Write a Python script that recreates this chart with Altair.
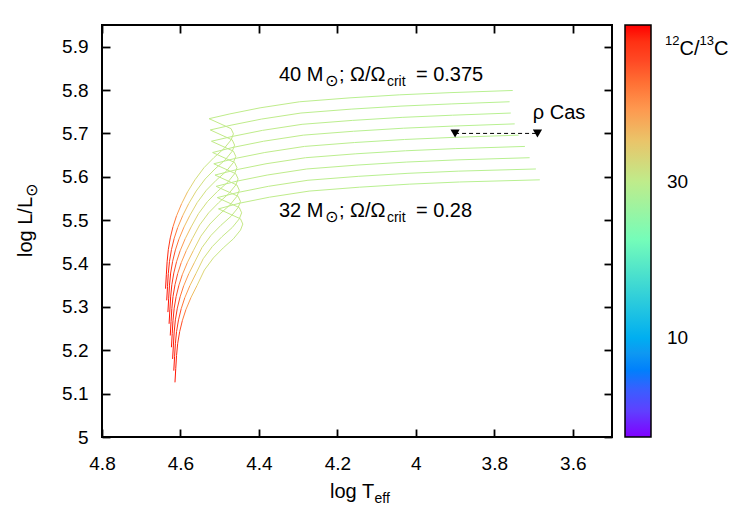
import altair as alt
import pandas as pd

# Rotating evolutionary tracks, 40 Msun (top) down to 32 Msun (bottom)
masses = [40, 39, 38, 37, 36, 35, 34, 33, 32]

track_logT = [
    [4.638, 4.636, 4.634, 4.631, 4.626, 4.619, 4.610, 4.597, 4.582, 4.563, 4.540, 4.515, 4.489, 4.471, 4.465, 4.471, 4.527, 4.474, 4.397, 4.296, 4.168, 4.041, 3.913, 3.753],
    [4.635, 4.633, 4.631, 4.628, 4.623, 4.616, 4.607, 4.594, 4.579, 4.560, 4.537, 4.512, 4.486, 4.468, 4.462, 4.468, 4.524, 4.471, 4.394, 4.293, 4.165, 4.038, 3.910, 3.761],
    [4.632, 4.630, 4.628, 4.625, 4.620, 4.613, 4.604, 4.591, 4.576, 4.557, 4.534, 4.509, 4.483, 4.465, 4.459, 4.465, 4.521, 4.468, 4.391, 4.290, 4.162, 4.035, 3.907, 3.758],
    [4.629, 4.627, 4.625, 4.622, 4.617, 4.610, 4.601, 4.588, 4.573, 4.554, 4.531, 4.506, 4.480, 4.462, 4.456, 4.462, 4.518, 4.465, 4.388, 4.287, 4.159, 4.032, 3.904, 3.748],
    [4.626, 4.624, 4.622, 4.619, 4.614, 4.607, 4.598, 4.585, 4.570, 4.551, 4.528, 4.503, 4.477, 4.459, 4.453, 4.459, 4.515, 4.462, 4.385, 4.284, 4.156, 4.029, 3.901, 3.738],
    [4.623, 4.621, 4.619, 4.616, 4.611, 4.604, 4.595, 4.582, 4.567, 4.548, 4.525, 4.500, 4.474, 4.456, 4.450, 4.456, 4.512, 4.459, 4.382, 4.281, 4.153, 4.026, 3.898, 3.722],
    [4.620, 4.618, 4.616, 4.613, 4.608, 4.601, 4.592, 4.579, 4.564, 4.545, 4.522, 4.497, 4.471, 4.453, 4.447, 4.453, 4.509, 4.456, 4.379, 4.278, 4.150, 4.023, 3.895, 3.710],
    [4.617, 4.615, 4.613, 4.610, 4.605, 4.598, 4.589, 4.576, 4.561, 4.542, 4.519, 4.494, 4.468, 4.450, 4.444, 4.450, 4.506, 4.453, 4.376, 4.275, 4.147, 4.020, 3.892, 3.694],
    [4.614, 4.612, 4.610, 4.607, 4.602, 4.595, 4.586, 4.573, 4.558, 4.539, 4.516, 4.491, 4.465, 4.447, 4.441, 4.447, 4.503, 4.450, 4.373, 4.272, 4.144, 4.017, 3.889, 3.684],
]

track_logL = [
    [5.342, 5.374, 5.404, 5.432, 5.459, 5.485, 5.510, 5.538, 5.565, 5.593, 5.621, 5.644, 5.665, 5.685, 5.699, 5.711, 5.734, 5.745, 5.759, 5.773, 5.782, 5.789, 5.794, 5.799],
    [5.315, 5.347, 5.377, 5.405, 5.432, 5.458, 5.483, 5.511, 5.538, 5.567, 5.595, 5.618, 5.639, 5.659, 5.673, 5.685, 5.708, 5.719, 5.733, 5.747, 5.756, 5.763, 5.768, 5.773],
    [5.288, 5.320, 5.350, 5.378, 5.405, 5.431, 5.456, 5.484, 5.511, 5.541, 5.569, 5.592, 5.613, 5.633, 5.647, 5.659, 5.682, 5.693, 5.707, 5.721, 5.730, 5.737, 5.742, 5.747],
    [5.261, 5.293, 5.323, 5.351, 5.378, 5.404, 5.429, 5.457, 5.484, 5.515, 5.543, 5.566, 5.587, 5.607, 5.621, 5.633, 5.656, 5.668, 5.682, 5.696, 5.705, 5.712, 5.717, 5.722],
    [5.234, 5.266, 5.296, 5.324, 5.351, 5.377, 5.402, 5.430, 5.457, 5.489, 5.517, 5.540, 5.561, 5.581, 5.595, 5.607, 5.630, 5.642, 5.656, 5.670, 5.679, 5.686, 5.691, 5.696],
    [5.207, 5.239, 5.269, 5.297, 5.324, 5.350, 5.375, 5.403, 5.430, 5.463, 5.491, 5.514, 5.535, 5.555, 5.569, 5.581, 5.604, 5.616, 5.630, 5.644, 5.653, 5.660, 5.665, 5.670],
    [5.180, 5.212, 5.242, 5.270, 5.297, 5.323, 5.348, 5.376, 5.403, 5.437, 5.465, 5.488, 5.509, 5.529, 5.543, 5.555, 5.578, 5.590, 5.604, 5.618, 5.627, 5.634, 5.639, 5.644],
    [5.153, 5.185, 5.215, 5.243, 5.270, 5.296, 5.321, 5.349, 5.376, 5.411, 5.439, 5.462, 5.483, 5.503, 5.517, 5.529, 5.552, 5.564, 5.578, 5.592, 5.601, 5.608, 5.613, 5.618],
    [5.126, 5.158, 5.188, 5.216, 5.243, 5.269, 5.294, 5.322, 5.349, 5.385, 5.413, 5.436, 5.457, 5.477, 5.491, 5.503, 5.526, 5.539, 5.553, 5.567, 5.576, 5.583, 5.588, 5.593],
]

# surface 12C/13C along each track, point by point
c_ratio = [88, 87, 85, 81, 74, 64, 54, 45, 38, 34, 32, 31, 31, 31, 31, 31, 30, 30, 30, 30, 29, 29, 29, 29]

# rho Cas: quiescent and outburst positions
rho_logT = [3.90, 3.69]
rho_logL = [5.70, 5.70]

x_ticks = [4.8, 4.6, 4.4, 4.2, 4.0, 3.8, 3.6]
y_ticks = [5.0, 5.1, 5.2, 5.3, 5.4, 5.5, 5.6, 5.7, 5.8, 5.9]
cb_labels = [10, 30]

W, H = 510, 412
FONT = "Liberation Sans"
TICK = 8

# rainbow palette (gnuplot rgbformulae 33,13,10) over a log colour axis
cb_min, cb_max = 5, 90
cb_colors = ["#8000ff", "#4d4ffc", "#1a96f2", "#1acee3", "#4df3ce", "#80ffb4",
             "#b3f396", "#e6ce74", "#ff964f", "#ff4f28", "#ff0000"]
cb_stops = [cb_min * (cb_max / cb_min) ** (i / 10) for i in range(11)]

# each track is drawn as short segments so colour can change along it
rows = []
for m, T, L in zip(masses, track_logT, track_logL):
    for i in range(len(T) - 1):
        rows.append({"mass": m, "seg": i,
                     "logT": T[i], "logL": L[i],
                     "logT2": T[i + 1], "logL2": L[i + 1],
                     "ratio": (c_ratio[i] + c_ratio[i + 1]) / 2})
seg = pd.DataFrame(rows)

xscale = alt.Scale(domain=[3.5, 4.8], reverse=True, nice=False, zero=False)
yscale = alt.Scale(domain=[5.0, 5.95], nice=False, zero=False)

# frame ticks point inwards: the axis line is pulled inside the frame and
# its ticks reach back out to it
tick_axis = dict(title=None, ticks=True, tickSize=TICK, offset=-TICK, tickColor="black",
                 tickWidth=1.8, domain=False, grid=False, labelOverlap=False)

tracks = alt.Chart(seg).mark_rule(strokeWidth=1).encode(
    x=alt.X("logT:Q", scale=xscale,
            axis=alt.Axis(orient="bottom", values=x_ticks, format="~g", labelFlush=False,
                          labelPadding=17, **tick_axis)),
    x2="logT2:Q",
    y=alt.Y("logL:Q", scale=yscale,
            axis=alt.Axis(orient="left", values=y_ticks, format="~g", labelPadding=14,
                          **tick_axis)),
    y2="logL2:Q",
    color=alt.Color("ratio:Q",
                    scale=alt.Scale(type="log", domain=cb_stops, range=cb_colors),
                    legend=alt.Legend(title=None, orient="none", direction="vertical",
                                      legendX=W + 13, legendY=0, padding=0,
                                      gradientLength=H, gradientThickness=26,
                                      gradientStrokeColor="black", gradientStrokeWidth=1.5,
                                      values=cb_labels, labelFontSize=19, labelFont=FONT,
                                      labelColor="black", labelOffset=16)),
)

rho = pd.DataFrame({"logT": rho_logT, "logL": rho_logL})
rho_line = alt.Chart(rho).mark_line(color="black", strokeWidth=1, strokeDash=[4, 3]).encode(
    x=alt.X("logT:Q", scale=xscale, axis=None), y=alt.Y("logL:Q", scale=yscale, axis=None))
rho_pts = alt.Chart(rho).mark_point(shape="triangle-down", filled=True, color="black",
                                    size=85, opacity=1).encode(
    x=alt.X("logT:Q", scale=xscale, axis=None), y=alt.Y("logL:Q", scale=yscale, axis=None))

# mirrored ticks on the top and right edges of the frame
mirror = alt.Chart(rho).mark_point(opacity=0).encode(
    x=alt.X("logT:Q", scale=xscale,
            axis=alt.Axis(orient="top", values=x_ticks, labels=False, **tick_axis)),
    y=alt.Y("logL:Q", scale=yscale,
            axis=alt.Axis(orient="right", values=y_ticks, labels=False, **tick_axis)),
)

one = alt.Data(values=[{}])


def at_data(text, t, l, dx=0, dy=0, size=20, font=FONT):
    return alt.Chart(one).mark_text(text=text, align="left", baseline="alphabetic",
                                    dx=dx, dy=dy, fontSize=size, font=font,
                                    color="black").encode(
        x=alt.datum(t, scale=xscale, axis=None), y=alt.datum(l, scale=yscale, axis=None))


def at_px(text, px, py, dx=0, dy=0, size=20, font=FONT, angle=0):
    return alt.Chart(one).mark_text(text=text, align="left", baseline="alphabetic",
                                    dx=dx, dy=dy, fontSize=size, font=font, angle=angle,
                                    color="black").encode(
        x=alt.value(px), y=alt.value(py))


labels = []
for name, lbl_L, omega in [("40", 5.820, "0.375"), ("32", 5.508, "0.28")]:
    labels += [
        at_data(f"{name} M", 4.349, lbl_L),
        at_data("\u2299", 4.349, lbl_L, dx=46, dy=5, size=16, font="DejaVu Sans"),
        at_data("; \u03a9/\u03a9", 4.349, lbl_L, dx=60),
        at_data("crit", 4.349, lbl_L, dx=108, dy=5, size=14),
        at_data(f"= {omega}", 4.349, lbl_L, dx=137),
    ]
labels.append(at_data("\u03c1 Cas", 3.702, 5.734))

# axis titles with subscripts
labels += [
    at_px("log T", 228, H + 61),
    at_px("eff", 228, H + 61, dx=44.5, dy=5, size=14),
    at_px("log L/L", -70, 232, angle=270),
    at_px("\u2299", -70, 232, dx=60, dy=5, size=16, font="DejaVu Sans", angle=270),
]

# colour-bar title 12C/13C
labels += [
    at_px("12", W + 53, 30, dy=-10, size=13),
    at_px("C/", W + 53, 30, dx=14.5),
    at_px("13", W + 53, 30, dx=34.5, dy=-10, size=13),
    at_px("C", W + 53, 30, dx=49),
]

chart = alt.layer(tracks, mirror, rho_line, rho_pts, *labels).resolve_axis(
    x="independent", y="independent",
).properties(
    width=W, height=H,
    padding={"left": 102, "top": 25, "right": 138, "bottom": 88},
    autosize=alt.AutoSizeParams(type="none"),
).configure_view(stroke="black", strokeWidth=2).configure_axis(
    labelFont=FONT, labelFontSize=19, labelColor="black",
)

chart.save("out.html", embed_options={"renderer": "svg", "actions": False})
